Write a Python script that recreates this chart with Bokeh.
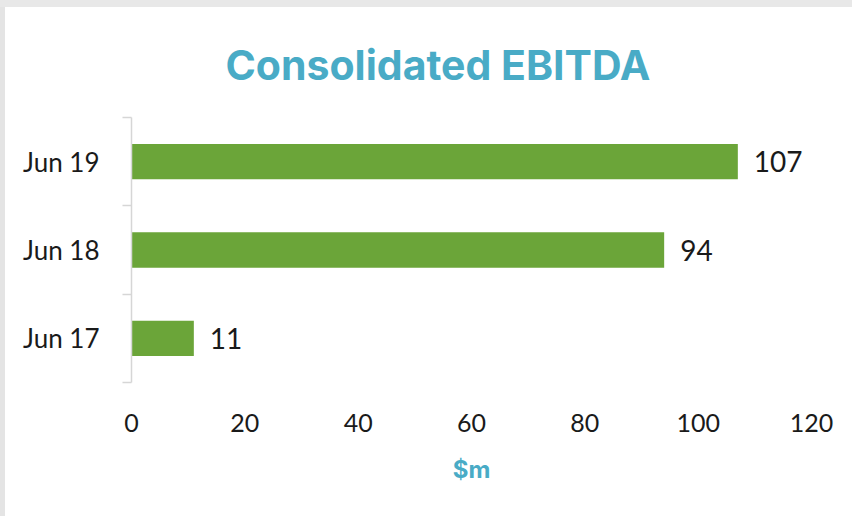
from bokeh.plotting import figure
from bokeh.models import ColumnDataSource, FixedTicker, Range1d, Title, Spacer
from bokeh.layouts import column, row
from bokeh.core.properties import value
from bokeh.embed import file_html
from bokeh.resources import INLINE

categories = ["Jun 17", "Jun 18", "Jun 19"]
ebitda = [11, 94, 107]
x_ticks = [0, 20, 40, 60, 80, 100, 120]

pos = [i + 0.5 for i in range(len(categories))]
src = ColumnDataSource(dict(y=pos, v=ebitda, lbl=[str(v) for v in ebitda]))

LABEL_FONT = "Lato"
TITLE_BLUE = "#49abc6"

p = figure(width=847, height=509, output_backend="svg", toolbar_location=None,
           x_range=Range1d(0, 120), y_range=Range1d(0, len(categories)),
           min_border_left=126, min_border_right=41, min_border_top=110, min_border_bottom=134,
           background_fill_color="white", border_fill_color="white")
p.outline_line_color = None
p.xgrid.grid_line_color = None
p.ygrid.grid_line_color = None

p.hbar(y="y", right="v", left=0, height=0.4, source=src, color="#6ba539", line_color=None)
p.text(x="v", y="y", text="lbl", source=src, x_offset=16, text_baseline="middle",
       text_align="left", text_font=value(LABEL_FONT), text_font_size="28px", text_color="#1a1a1a")

# title
t = Title(text="Consolidated EBITDA", align="left", offset=94, standoff=56,
          text_font="Inter", text_font_style="bold", text_font_size="41px", text_color=TITLE_BLUE)
p.add_layout(t, "above")

# y axis
ya = p.yaxis[0]
ya.ticker = FixedTicker(ticks=pos, minor_ticks=[0, 1, 2, 3])
ya.major_label_overrides = {pv: c for pv, c in zip(pos, categories)}
ya.axis_line_color = "#d6d6d6"
ya.axis_line_width = 1.5
ya.major_tick_out = 0
ya.major_tick_in = 0
ya.minor_tick_out = 9
ya.minor_tick_in = 0
ya.minor_tick_line_color = "#d6d6d6"
ya.minor_tick_line_width = 1.5
ya.major_label_standoff = 23
ya.major_label_text_font = LABEL_FONT
ya.major_label_text_font_size = "26px"
ya.major_label_text_color = "#1a1a1a"

# x axis
xa = p.xaxis[0]
xa.ticker = FixedTicker(ticks=x_ticks, minor_ticks=[])
xa.axis_line_color = None
xa.major_tick_line_color = None
xa.minor_tick_line_color = None
xa.major_label_standoff = 25
xa.major_label_text_font = LABEL_FONT
xa.major_label_text_font_size = "25px"
xa.major_label_text_color = "#1a1a1a"
xa.axis_label = "$m"
xa.axis_label_standoff = 20
xa.axis_label_text_font = "Inter"
xa.axis_label_text_font_style = "bold"
xa.axis_label_text_font_size = "24px"
xa.axis_label_text_color = TITLE_BLUE

layout = column(
    Spacer(width=852, height=7, styles={"background-color": "#e8e8e8"}),
    row(Spacer(width=5, height=509, styles={"background-color": "#e4e4e4"}), p),
)

open("out.html", "w").write(file_html(layout, INLINE))
